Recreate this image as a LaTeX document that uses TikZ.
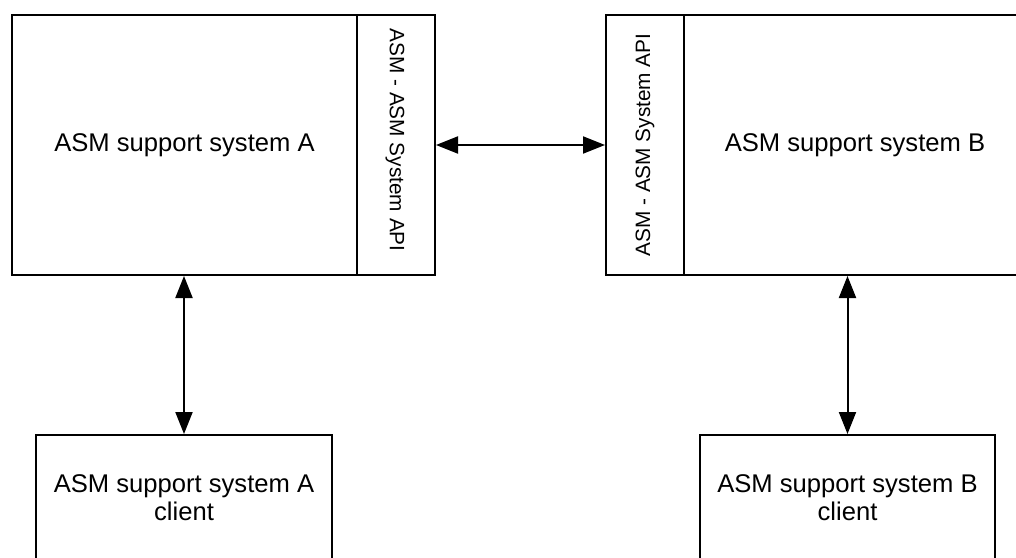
\documentclass[tikz,border=0pt]{standalone}
\usepackage{fontspec}
\setmainfont{Liberation Sans}
\usetikzlibrary{arrows.meta}
\begin{document}
\begin{tikzpicture}[x=0.5pt,y=-0.5pt,
  box/.style={draw=black, line width=1pt, inner sep=0pt, align=center, font=\fontsize{12.8}{14}\selectfont},
  apibox/.style={draw=black, line width=1pt, inner sep=0pt},
  apitext/.style={inner sep=0pt, font=\fontsize{10.4}{12}\selectfont},
  link/.style={line width=1pt, {Triangle[length=11pt,width=8.5pt]}-{Triangle[length=11pt,width=8.5pt]}}]
\useasboundingbox (0,0) rectangle (1016,557);
\clip (0,0) rectangle (1016,557);
\node[box, minimum width=172.5pt, minimum height=130pt] (A) at (184.5,145) {ASM support system A};
\node[apibox, minimum width=39pt, minimum height=130pt] (APIa) at (396,145) {};
\node[apitext, rotate=-90] (APIaT) at (395,140) {ASM - ASM System API};
\node[apibox, minimum width=39pt, minimum height=130pt] (APIb) at (645,145) {};
\node[apitext, rotate=90] (APIbT) at (645,145) {ASM - ASM System API};
\node[box, minimum width=171pt, minimum height=130pt] (B) at (855,145) {ASM support system B};
\node[box, minimum width=148pt, minimum height=62.5pt] (Ac) at (184,497.5) {ASM support system A\\client};
\node[box, minimum width=147.5pt, minimum height=62.5pt] (Bc) at (847.5,497.5) {ASM support system B\\client};
\draw[link] (APIa.east) -- (APIb.west);
\draw[link] (Ac.north |- A.south) -- (Ac.north);
\draw[link] (Bc.north |- B.south) -- (Bc.north);
\end{tikzpicture}
\end{document}
